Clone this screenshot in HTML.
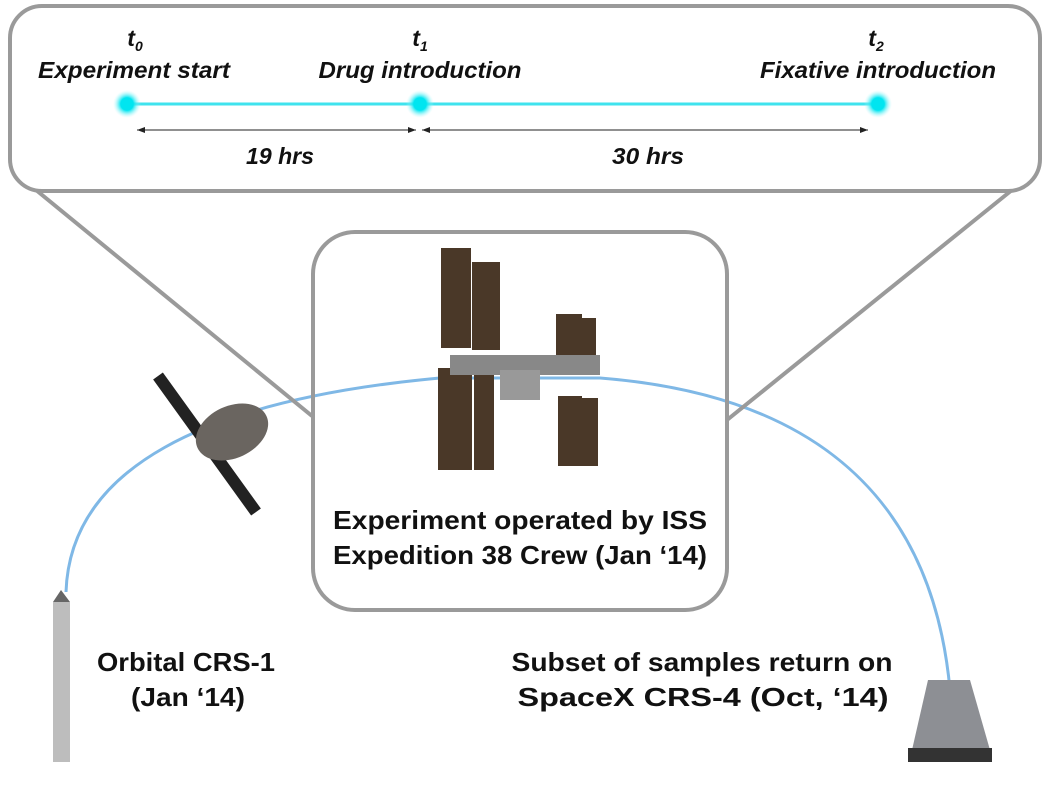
<!DOCTYPE html>
<html><head><style>body{margin:0;background:#fff}svg{display:block}</style></head><body>
<svg width="1055" height="788" viewBox="0 0 1055 788" xmlns="http://www.w3.org/2000/svg" font-family="Liberation Sans, sans-serif">
<defs><radialGradient id="g"><stop offset="0.45" stop-color="#00e5f0"/><stop offset="1" stop-color="#bff8fb" stop-opacity="0"/></radialGradient>
<marker id="a" markerWidth="8" markerHeight="6" refX="8" refY="3" orient="auto-start-reverse"><path d="M0,0L8,3L0,6z" fill="#222"/></marker></defs>
<path d="M66,592 C70,470 200,400 440,378 L600,378 C780,392 930,470 950,690" fill="none" stroke="#7fb8e6" stroke-width="3"/>
<line x1="36" y1="190" x2="312" y2="416" stroke="#9a9a9a" stroke-width="4"/>
<line x1="1012" y1="190" x2="727" y2="420" stroke="#9a9a9a" stroke-width="4"/>
<rect x="10" y="6" width="1030" height="185" rx="32" fill="#fff" stroke="#9a9a9a" stroke-width="4"/>
<rect x="313" y="232" width="414" height="378" rx="42" fill="none" stroke="#9a9a9a" stroke-width="4"/>
<line x1="127" y1="104" x2="878" y2="104" stroke="#3fe3ee" stroke-width="3"/>
<circle cx="127" cy="104" r="14" fill="url(#g)"/><circle cx="420" cy="104" r="14" fill="url(#g)"/><circle cx="878" cy="104" r="14" fill="url(#g)"/>
<line x1="137" y1="130" x2="416" y2="130" stroke="#222" stroke-width="1" marker-start="url(#a)" marker-end="url(#a)"/>
<line x1="422" y1="130" x2="868" y2="130" stroke="#222" stroke-width="1" marker-start="url(#a)" marker-end="url(#a)"/>
<g font-weight="bold" font-style="italic" font-size="23" fill="#111" text-anchor="middle">
<text x="135" y="46">t<tspan font-size="14" dy="5">0</tspan></text>
<text x="420" y="46">t<tspan font-size="14" dy="5">1</tspan></text>
<text x="876" y="46">t<tspan font-size="14" dy="5">2</tspan></text>
<text x="134" y="78" textLength="192" lengthAdjust="spacingAndGlyphs">Experiment start</text>
<text x="420" y="78" textLength="203" lengthAdjust="spacingAndGlyphs">Drug introduction</text>
<text x="878" y="78" textLength="236" lengthAdjust="spacingAndGlyphs">Fixative introduction</text>
<text x="280" y="164" textLength="68" lengthAdjust="spacingAndGlyphs">19 hrs</text>
<text x="648" y="164" textLength="72" lengthAdjust="spacingAndGlyphs">30 hrs</text>
</g>
<g fill="#4a3828">
<rect x="441" y="248" width="30" height="100"/><rect x="472" y="262" width="28" height="88"/>
<rect x="438" y="368" width="34" height="102"/><rect x="474" y="372" width="20" height="98"/>
<rect x="556" y="314" width="26" height="54"/><rect x="582" y="318" width="14" height="50"/>
<rect x="558" y="396" width="24" height="70"/><rect x="582" y="398" width="16" height="68"/>
</g>
<rect x="450" y="355" width="150" height="20" fill="#888"/><rect x="500" y="370" width="40" height="30" fill="#999"/>
<line x1="158" y1="376" x2="256" y2="512" stroke="#222" stroke-width="12"/>
<ellipse cx="232" cy="432" rx="38" ry="26" transform="rotate(-25 232 432)" fill="#6a6560"/>
<rect x="53" y="602" width="17" height="160" fill="#bdbdbd"/><path d="M53,602 L61,590 L70,602z" fill="#666"/>
<path d="M928,680 L970,680 L990,750 L912,750z" fill="#8d8f94"/><rect x="908" y="748" width="84" height="14" fill="#333"/>
<g font-weight="bold" font-size="26" fill="#111" text-anchor="middle">
<text x="520" y="529" textLength="374" lengthAdjust="spacingAndGlyphs">Experiment operated by ISS</text>
<text x="520" y="564" textLength="374" lengthAdjust="spacingAndGlyphs">Expedition 38 Crew (Jan ‘14)</text>
<text x="186" y="671" textLength="178" lengthAdjust="spacingAndGlyphs">Orbital CRS-1</text>
<text x="188" y="706" textLength="114" lengthAdjust="spacingAndGlyphs">(Jan ‘14)</text>
<text x="702" y="671" textLength="381" lengthAdjust="spacingAndGlyphs">Subset of samples return on</text>
<text x="703" y="706" textLength="371" lengthAdjust="spacingAndGlyphs">SpaceX CRS-4 (Oct, ‘14)</text>
</g>
</svg>
</body></html>
